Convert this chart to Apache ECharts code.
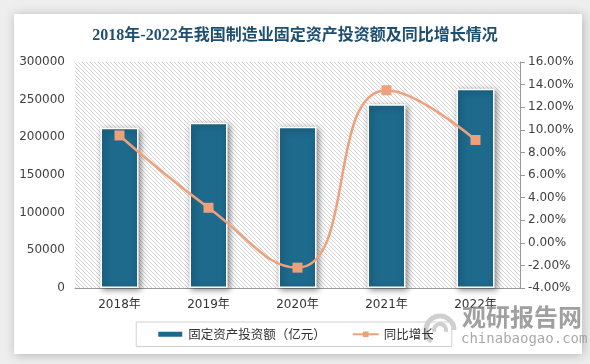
<!DOCTYPE html>
<html>
<head>
<meta charset="utf-8">
<script src="https://cdn.jsdelivr.net/npm/echarts@6/dist/echarts.min.js"></script>
<style>html,body{margin:0;padding:0;background:#fff;}#c{width:590px;height:364px;}</style>
</head>
<body>
<div id="c"></div>
<script>
var categories = ['2018年', '2019年', '2020年', '2021年', '2022年'];
var investment = [212800, 219400, 214100, 243800, 264600];
var growth = [9.5, 3.1, -2.2, 13.5, 9.1];
var titleText = '2018年-2022年我国制造业固定资产投资额及同比增长情况';
var barName = '固定资产投资额（亿元）';
var lineName = '同比增长';

var pc = document.createElement('canvas');
pc.width = 4; pc.height = 4;
var ctx = pc.getContext('2d');
ctx.fillStyle = '#ffffff';
ctx.fillRect(0, 0, 4, 4);
ctx.strokeStyle = '#d4d4d4';
ctx.lineWidth = 1;
ctx.beginPath();
ctx.moveTo(-1, -1); ctx.lineTo(5, 5);
ctx.moveTo(-1, 3); ctx.lineTo(1, 5);
ctx.moveTo(3, -1); ctx.lineTo(5, 1);
ctx.stroke();

var chart = echarts.init(document.getElementById('c'), null, {renderer: 'canvas'});
var option = {
  backgroundColor: '#eeeeee',
  animation: false,
  graphic: [
    {type: 'rect', z: -10, shape: {x: 14, y: 14, width: 568, height: 340},
     style: {fill: '#ffffff', shadowBlur: 10, shadowColor: 'rgba(0,0,0,0.25)', shadowOffsetX: 1, shadowOffsetY: 1}},
    {type: 'arc', z: 1, shape: {cx: 440, cy: 330, r: 14, startAngle: Math.PI * 0.7, endAngle: Math.PI * 2.0},
     style: {stroke: '#cfcfcf', lineWidth: 5, fill: null}},
    {type: 'arc', z: 1, shape: {cx: 440, cy: 330, r: 6, startAngle: Math.PI * 0.9, endAngle: Math.PI * 2.1},
     style: {stroke: '#cfcfcf', lineWidth: 4, fill: null}},
    {type: 'text', z: 1, left: 462, top: 305,
     style: {text: '观研报告网', fill: '#8f8f8f', font: 'bold 24px "Noto Sans CJK SC"', opacity: 0.85}},
    {type: 'text', z: 1, left: 461, top: 332,
     style: {text: 'chinabaogao.com', fill: '#9a9a9a', font: '14px "DejaVu Sans Mono"', opacity: 0.85}}
  ],
  title: {
    text: titleText,
    left: 'center',
    top: 23,
    textStyle: {fontFamily: '"Liberation Serif", "Noto Sans CJK SC"', fontWeight: 'bold', fontSize: 16, color: '#1f4f6e'}
  },
  legend: {
    left: 'center',
    top: 322,
    padding: [6, 18, 6, 20],
    borderColor: '#d0d0d0',
    borderWidth: 1,
    itemGap: 26,
    itemWidth: 26,
    itemHeight: 7,
    textStyle: {fontSize: 12.5, color: '#333', fontFamily: '"Noto Sans CJK SC"'},
    data: [{name: barName, icon: 'rect'}, {name: lineName}]
  },
  grid: {
    left: 75, right: 70, top: 62, bottom: 76,
    show: true,
    borderWidth: 0,
    backgroundColor: {image: pc, repeat: 'repeat'}
  },
  xAxis: {
    type: 'category',
    data: categories,
    axisLine: {lineStyle: {color: '#9a9a9a'}},
    axisTick: {show: false},
    axisLabel: {color: '#333', fontSize: 12, margin: 11, fontFamily: '"DejaVu Sans", "Noto Sans CJK SC"'}
  },
  yAxis: [
    {
      type: 'value', min: 0, max: 300000, interval: 50000,
      axisLine: {show: false}, axisTick: {show: false}, splitLine: {show: false},
      axisLabel: {color: '#404040', fontSize: 12, margin: 10, fontFamily: '"DejaVu Sans"',
        formatter: function (v) { return String(v); }}
    },
    {
      type: 'value', min: -4, max: 16, interval: 2,
      axisLine: {show: true, lineStyle: {color: '#9a9a9a'}},
      axisTick: {show: true, length: 5, lineStyle: {color: '#9a9a9a'}},
      splitLine: {show: false},
      axisLabel: {color: '#404040', fontSize: 12, margin: 8, fontFamily: '"DejaVu Sans"',
        formatter: function (v) { return v.toFixed(2) + '%'; }}
    }
  ],
  series: [
    {
      name: barName, type: 'bar', data: investment, barWidth: 38,
      itemStyle: {color: '#1d6a8d', borderColor: '#ffffff', borderWidth: 1.5,
        shadowBlur: 6, shadowColor: 'rgba(0,0,0,0.45)', shadowOffsetX: 2, shadowOffsetY: 2}
    },
    {
      name: lineName, type: 'line', yAxisIndex: 1, data: growth, smooth: 0.5,
      symbol: 'rect', symbolSize: 10, z: 5,
      lineStyle: {color: '#f0a07c', width: 2.5},
      itemStyle: {color: '#eea07a'}
    }
  ]
};
chart.setOption(option);
</script>
</body>
</html>
